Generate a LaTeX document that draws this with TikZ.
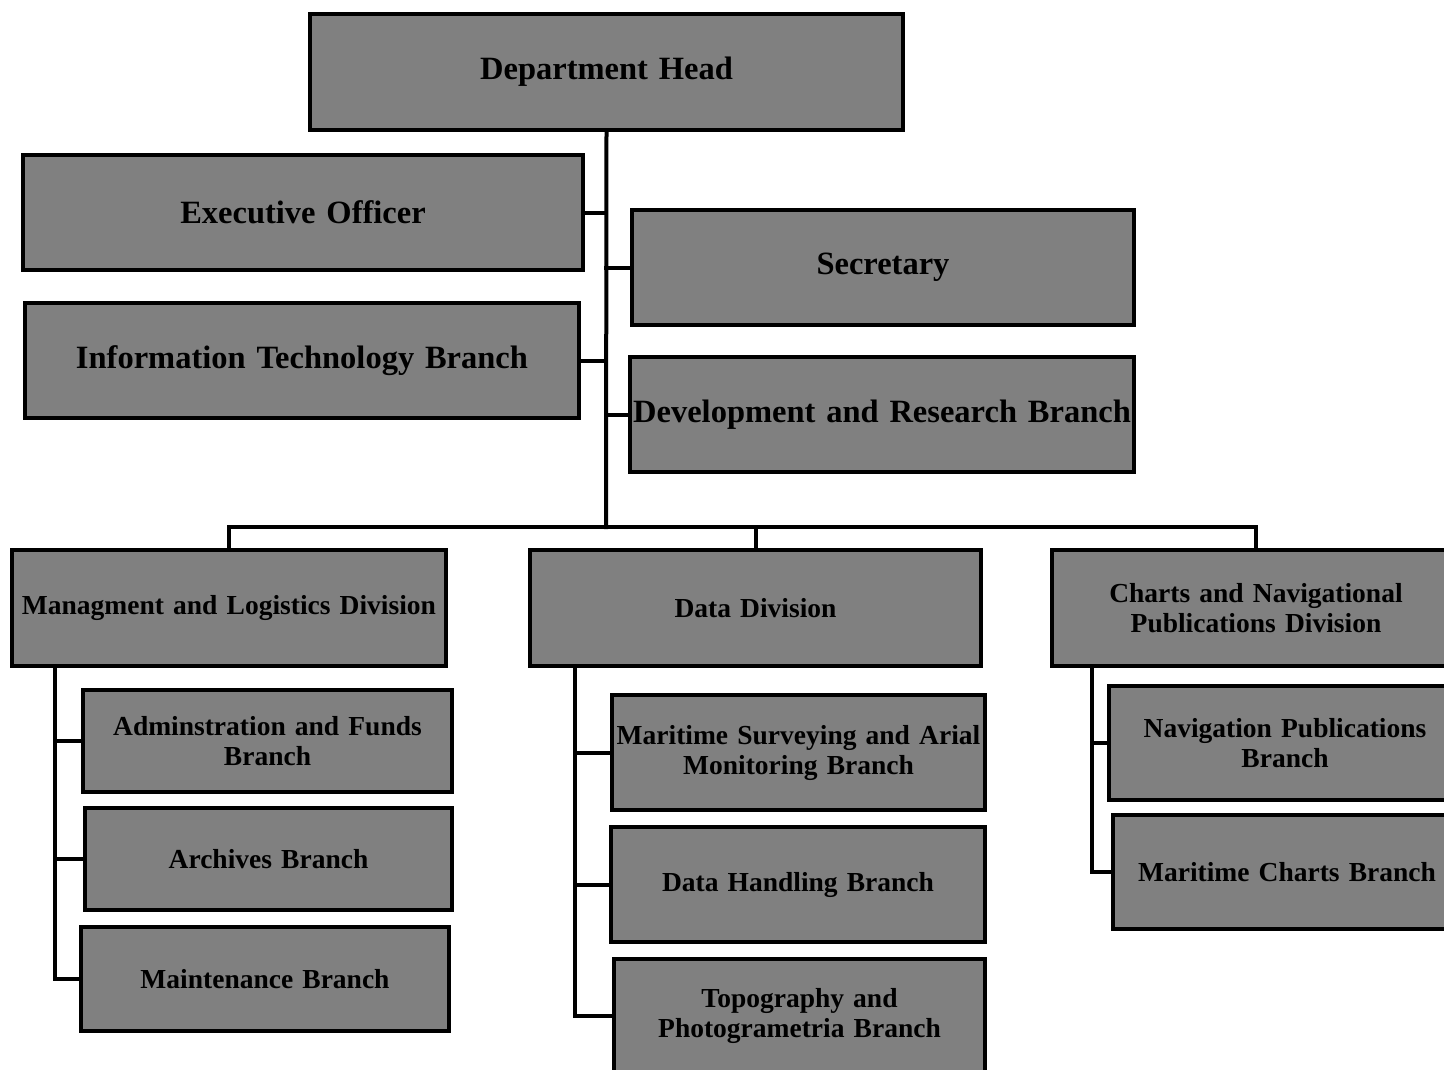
\documentclass[tikz,border=0pt]{standalone}
\usepackage{fontspec}
\setmainfont{Liberation Serif}
\newfontfamily\widefamily[WordSpace=1.35]{Liberation Serif}
\usepackage{tikz,xcolor}
\tikzstyle{link} = [line width=4pt, line cap=rect]
\tikzset{unit/.style={rectangle, draw, line width=4pt, fill=gray, inner sep=0pt,
    align=center, font=\bfseries},
    topunit/.style={unit, font=\fontsize{32.5}{36}\selectfont\bfseries},
    lowunit/.style={unit, font=\widefamily\fontsize{27.5}{30}\selectfont\bfseries}}

\begin{document}
\begin{tikzpicture}[x=1pt, y=-1pt]
    % Page frame
    \fill[white] (0,0) rectangle (1444,1070);
    \clip (0,0) rectangle (1444,1070);
    %
    % Top level
    \node[topunit, minimum width=593, minimum height=116, text width=580] (head) at (606.5,72) {Department Head};
    \node[topunit, minimum width=560, minimum height=115, text width=550] (exec) at (303,212.5) {Executive Officer};
    \node[topunit, minimum width=502, minimum height=115, text width=494] (secr) at (883,267.5) {Secretary};
    \node[topunit, minimum width=554, minimum height=115, text width=546] (itb) at (302,360.5) {Information Technology Branch};
    \node[topunit, minimum width=504, minimum height=115, text width=500] (devres) at (882,414.5) {Development and Research Branch};
    %
    % Divisions
    \node[lowunit, minimum width=434, minimum height=116, text width=426] (mgmt) at (229,608) {Managment and Logistics Division};
    \node[lowunit, minimum width=451, minimum height=116, text width=440] (data) at (755.5,608) {Data Division};
    \node[lowunit, minimum width=408, minimum height=116, text width=400] (charts) at (1256,608) {Charts and Navigational\\Publications Division};
    %
    % Branches
    \node[lowunit, minimum width=369, minimum height=102, text width=360] (admin) at (267.5,741) {Adminstration and Funds\\Branch};
    \node[lowunit, minimum width=367, minimum height=102, text width=360] (archive) at (268.5,859) {Archives Branch};
    \node[lowunit, minimum width=368, minimum height=104, text width=360] (maint) at (265,979) {Maintenance Branch};
    \node[lowunit, minimum width=373, minimum height=115, text width=366] (survey) at (798.5,752.5) {Maritime Surveying and Arial\\Monitoring Branch};
    \node[lowunit, minimum width=374, minimum height=115, text width=366] (handling) at (798,884.5) {Data Handling Branch};
    \node[lowunit, minimum width=371, minimum height=115, text width=364] (topo) at (799.5,1016) {Topography and\\Photogrametria Branch};
    \node[lowunit, minimum width=352, minimum height=114, text width=344] (navpub) at (1285,743) {Navigation Publications\\Branch};
    \node[lowunit, minimum width=348, minimum height=114, text width=340] (marchart) at (1287,872) {Maritime Charts Branch};
    %
    % Connectors
    \coordinate (bus) at (606,527);
    \draw[link] (head.south) -- (bus);
    \draw[link] (exec.east) -- (exec.east -| bus);
    \draw[link] (secr.west) -- (secr.west -| bus);
    \draw[link] (itb.east) -- (itb.east -| bus);
    \draw[link] (devres.west) -- (devres.west -| bus);
    \draw[link] (mgmt.north) |- (bus) -| (charts.north);
    \draw[link] (data.north) -- (data.north |- bus);
    %
    \coordinate (mgmtstem) at ([xshift=45pt]mgmt.south west);
    \coordinate (datastem) at ([xshift=47pt]data.south west);
    \coordinate (chartstem) at ([xshift=42pt]charts.south west);
    \draw[link] (mgmtstem) |- (maint.west);
    \draw[link] (admin.west) -- (admin.west -| mgmtstem);
    \draw[link] (archive.west) -- (archive.west -| mgmtstem);
    \draw[link] (datastem) |- (topo.west);
    \draw[link] (survey.west) -- (survey.west -| datastem);
    \draw[link] (handling.west) -- (handling.west -| datastem);
    \draw[link] (chartstem) |- (marchart.west);
    \draw[link] (navpub.west) -- (navpub.west -| chartstem);
\end{tikzpicture}
\end{document}
